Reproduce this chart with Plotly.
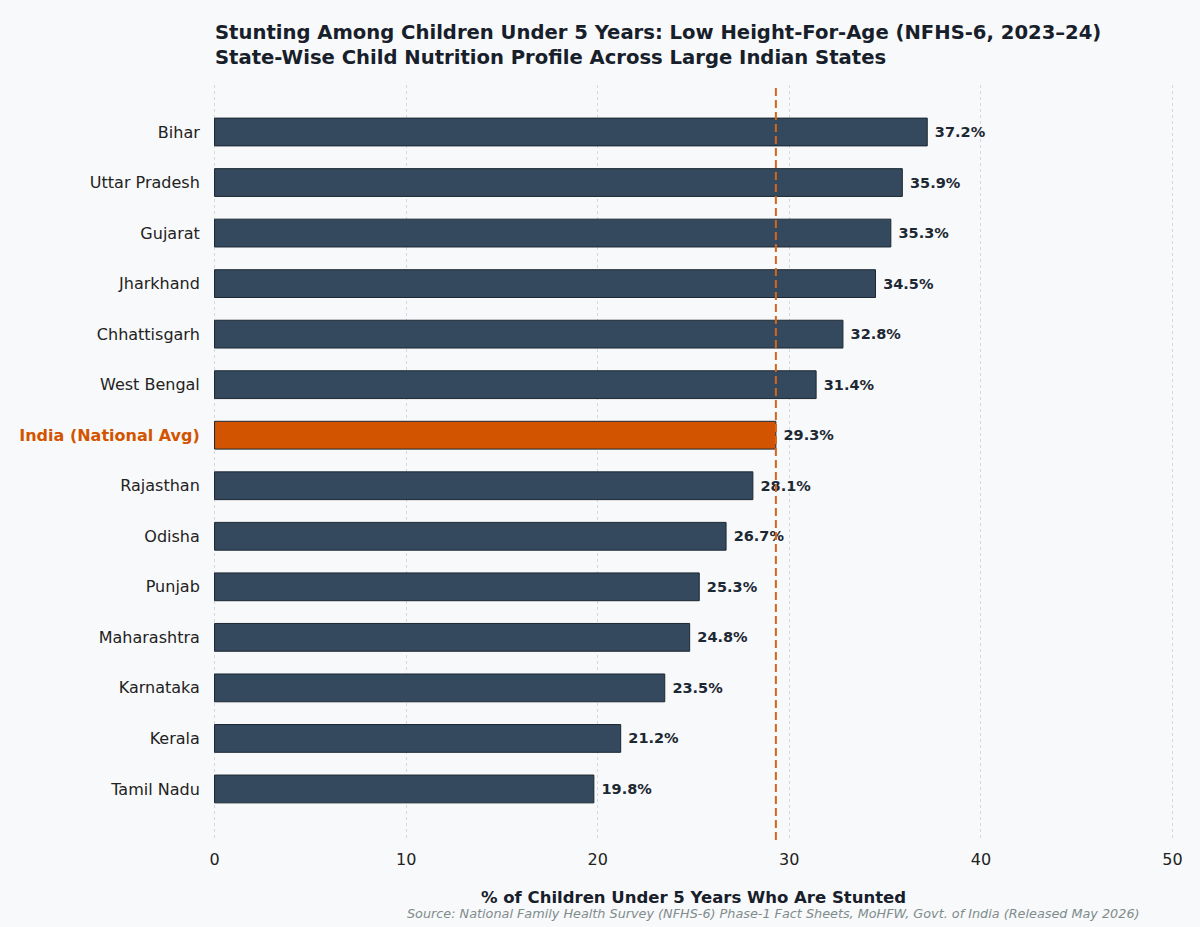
import plotly.graph_objects as go

# NFHS-6 stunting, children under 5 (%), top to bottom as in the chart
states = [
    "Bihar", "Uttar Pradesh", "Gujarat", "Jharkhand", "Chhattisgarh",
    "West Bengal", "India (National Avg)", "Rajasthan", "Odisha", "Punjab",
    "Maharashtra", "Karnataka", "Kerala", "Tamil Nadu",
]
stunting = [37.2, 35.9, 35.3, 34.5, 32.8, 31.4, 29.3, 28.1, 26.7, 25.3, 24.8, 23.5, 21.2, 19.8]
national_label = "India (National Avg)"
national_avg = 29.3
x_ticks = [0, 10, 20, 30, 40, 50]

BG = "#f8f9fa"
BAR = "#34495e"
HILITE = "#d35400"
FONT = "DejaVu Sans"

# plotly draws category 0 at the bottom, so reverse
cats = states[::-1]
vals = stunting[::-1]
colors = [HILITE if c == national_label else BAR for c in cats]
ticktext = [
    f"<b><span style='color:{HILITE}'>{c}</span></b>" if c == national_label else c
    for c in cats
]

fig = go.Figure()
fig.add_trace(go.Bar(
    x=vals, y=cats, orientation="h",
    width=0.55,
    marker=dict(color=colors, line=dict(color="#1c2833", width=1)),
    text=vals, texttemplate=" <b>%{x:.1f}%</b>", textposition="outside",
    textfont=dict(family=FONT, size=14.5, color="#1c2833"),
    cliponaxis=False, hoverinfo="skip",
))

fig.add_shape(
    type="line", xref="x", yref="paper", x0=national_avg, x1=national_avg, y0=0, y1=1,
    line=dict(color="#d4661c", width=2, dash="8px,4px"),
)

fig.add_annotation(
    xref="paper", yref="paper", x=0, y=1.053, xanchor="left", yanchor="middle",
    align="left", showarrow=False,
    text="<b>Stunting Among Children Under 5 Years: Low Height-For-Age (NFHS-6, 2023–24)<br>"
         "State-Wise Child Nutrition Profile Across Large Indian States</b>",
    font=dict(family=FONT, size=19.6, color="#17202a"),
)
fig.add_annotation(
    xref="paper", yref="paper", x=0.5, y=-0.0755, xanchor="center", yanchor="middle",
    showarrow=False, text="<b>% of Children Under 5 Years Who Are Stunted</b>",
    font=dict(family=FONT, size=16.5, color="#17202a"),
)
fig.add_annotation(
    xref="paper", yref="paper", x=0.9666, y=-0.097, xanchor="right", yanchor="middle",
    showarrow=False,
    text="<i>Source: National Family Health Survey (NFHS-6) Phase-1 Fact Sheets, MoHFW, Govt. of India (Released May 2026)</i>",
    font=dict(family=FONT, size=12.8, color="#7f8c8d"),
)

# a hair of padding so the 0 and 50 gridlines are drawn too
fig.update_xaxes(
    range=[-0.08, 50.08], tickvals=x_ticks, showgrid=True, gridcolor="#d5d8dc",
    griddash="dot", gridwidth=1, zeroline=False, showline=False,
    ticks="outside", ticklen=5, tickcolor="rgba(0,0,0,0)",
    tickfont=dict(family=FONT, size=16, color="#222222"),
)
fig.update_yaxes(
    type="category", categoryorder="array", categoryarray=cats,
    tickmode="array", tickvals=cats, ticktext=ticktext,
    range=[-1.01, 13.93], showgrid=False, zeroline=False, showline=False,
    ticks="outside", ticklen=9, tickcolor="rgba(0,0,0,0)",
    tickfont=dict(family=FONT, size=16, color="#222222"),
)
fig.update_layout(
    width=1200, height=927,
    margin=dict(l=213, r=26, t=85, b=87),
    paper_bgcolor=BG, plot_bgcolor=BG,
    showlegend=False, bargap=0.45,
    font=dict(family=FONT),
)

# drop the default page margin so the figure sits flush in the window
fig.write_html(
    "out.html",
    config={"displayModeBar": False},
    post_script="document.body.style.margin='0';document.body.style.background='%s';" % BG,
)
